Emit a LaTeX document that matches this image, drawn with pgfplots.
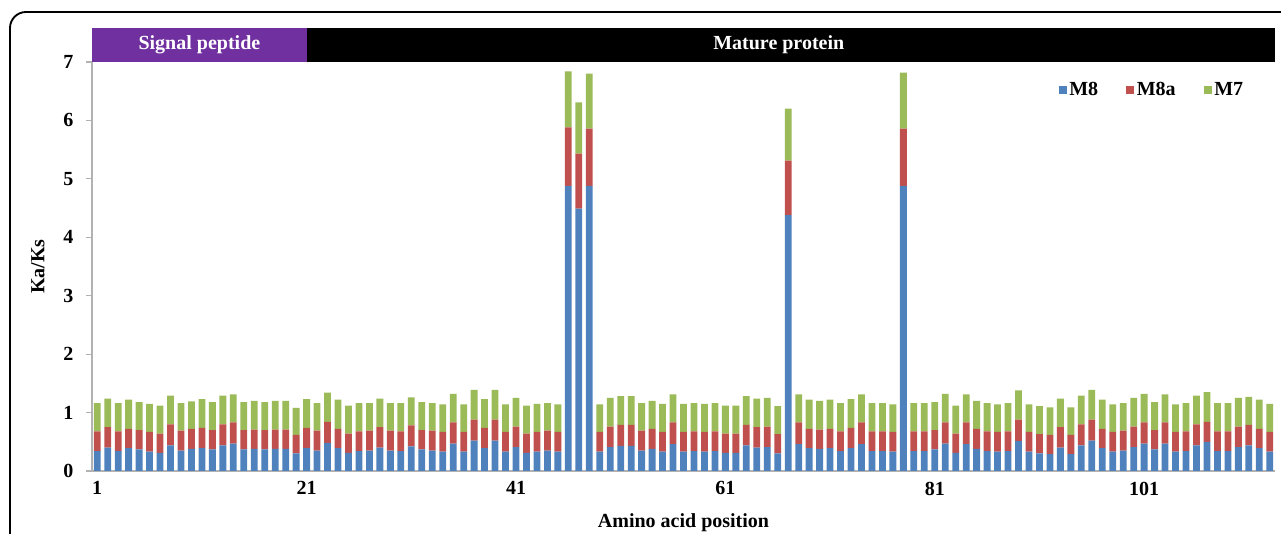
\documentclass[border=0pt]{standalone}
\usepackage{fontspec}
\setmainfont{Liberation Serif}
\usepackage{pgfplots}
\usepackage{pgfplotstable}
\pgfplotsset{compat=1.18}
\definecolor{cMeight}{HTML}{4F81BD}
\definecolor{cMeighta}{HTML}{C0504D}
\definecolor{cMseven}{HTML}{9BBB59}
\definecolor{cPurple}{HTML}{7030A0}
\pgfplotstableread{
pos m8 m8a m7
1 0.34 0.34 0.48
2 0.40 0.35 0.49
3 0.34 0.34 0.48
4 0.39 0.33 0.50
5 0.37 0.33 0.48
6 0.33 0.34 0.48
7 0.31 0.33 0.48
8 0.44 0.36 0.49
9 0.35 0.34 0.47
10 0.38 0.34 0.47
11 0.39 0.35 0.49
12 0.37 0.33 0.48
13 0.44 0.36 0.49
14 0.47 0.36 0.48
15 0.37 0.33 0.48
16 0.38 0.33 0.49
17 0.37 0.33 0.48
18 0.38 0.33 0.49
19 0.38 0.33 0.49
20 0.30 0.32 0.46
21 0.39 0.35 0.49
22 0.35 0.34 0.47
23 0.48 0.36 0.50
24 0.39 0.33 0.50
25 0.31 0.33 0.48
26 0.34 0.34 0.48
27 0.35 0.34 0.47
28 0.40 0.35 0.49
29 0.35 0.34 0.47
30 0.34 0.34 0.48
31 0.42 0.36 0.48
32 0.37 0.33 0.48
33 0.35 0.34 0.47
34 0.33 0.34 0.47
35 0.47 0.36 0.49
36 0.33 0.34 0.47
37 0.52 0.36 0.51
38 0.39 0.35 0.49
39 0.52 0.36 0.51
40 0.33 0.34 0.47
41 0.41 0.35 0.49
42 0.31 0.33 0.48
43 0.33 0.34 0.48
44 0.35 0.34 0.47
45 0.33 0.34 0.47
46 4.88 1.00 0.96
47 4.49 0.94 0.88
48 4.88 0.98 0.94
49 0.33 0.34 0.47
50 0.41 0.35 0.49
51 0.43 0.36 0.49
52 0.43 0.36 0.49
53 0.35 0.34 0.47
54 0.38 0.34 0.48
55 0.33 0.34 0.48
56 0.46 0.37 0.48
57 0.33 0.34 0.48
58 0.34 0.34 0.48
59 0.33 0.34 0.48
60 0.34 0.34 0.48
61 0.31 0.33 0.48
62 0.31 0.33 0.48
63 0.44 0.35 0.49
64 0.40 0.35 0.49
65 0.41 0.35 0.49
66 0.30 0.33 0.48
67 4.38 0.93 0.89
68 0.46 0.37 0.48
69 0.39 0.33 0.50
70 0.38 0.33 0.49
71 0.39 0.33 0.50
72 0.34 0.34 0.48
73 0.39 0.35 0.49
74 0.46 0.37 0.48
75 0.34 0.34 0.48
76 0.34 0.34 0.48
77 0.33 0.34 0.47
78 4.88 0.98 0.96
79 0.34 0.34 0.48
80 0.34 0.34 0.48
81 0.37 0.33 0.48
82 0.47 0.36 0.49
83 0.31 0.33 0.48
84 0.46 0.37 0.48
85 0.38 0.34 0.48
86 0.34 0.34 0.48
87 0.33 0.34 0.47
88 0.34 0.34 0.48
89 0.51 0.37 0.50
90 0.33 0.34 0.47
91 0.30 0.33 0.48
92 0.29 0.33 0.47
93 0.40 0.35 0.49
94 0.29 0.33 0.47
95 0.44 0.36 0.49
96 0.52 0.36 0.51
97 0.39 0.33 0.50
98 0.33 0.34 0.47
99 0.35 0.34 0.47
100 0.41 0.35 0.49
101 0.47 0.36 0.49
102 0.37 0.33 0.48
103 0.47 0.36 0.48
104 0.33 0.34 0.47
105 0.34 0.34 0.48
106 0.44 0.36 0.49
107 0.50 0.34 0.51
108 0.34 0.34 0.48
109 0.34 0.34 0.48
110 0.41 0.35 0.49
111 0.44 0.35 0.48
112 0.39 0.33 0.50
113 0.33 0.34 0.48
}\data

\begin{document}
\begin{tikzpicture}
\useasboundingbox (0pt,0pt) rectangle (960.75pt,400.5pt);
\draw[line width=1.4pt, rounded corners=12pt] (7.5pt,-5pt) -- (7.5pt,391.5pt) -- (970pt,391.5pt);
\begin{axis}[
  at={(69pt,47.25pt)}, anchor=south west,
  width=887.25pt, height=306.75pt, scale only axis,
  xmin=0.5, xmax=113.5, ymin=0, ymax=7,
  ybar stacked, bar width=0.65,
  axis x line*=bottom, axis y line*=left,
  axis line style={draw=gray!60, line width=0.8pt, -},
  xtick={1,21,41,61,81,101}, ytick={0,1,2,3,4,5,6,7},
  x tick style={draw=none},
  y tick style={draw=gray!60, line width=0.8pt},
  tick align=outside, major tick length=4.5pt,
  /pgf/number format/assume math mode=true,
  ticklabel style={font=\fontsize{15}{18}\selectfont\bfseries},
  yticklabel style={xshift=-6pt},
  label style={font=\fontsize{15}{18}\selectfont\bfseries},
  xlabel={Amino acid position},
  ylabel={Ka/Ks},
  xlabel style={at={(axis description cs:0.5,-0.127)}, anchor=center},
  ylabel style={at={(axis description cs:-0.0457,0.5)}, anchor=center},
  clip=false,
  legend columns=3,
  legend style={at={(0.979,0.965)}, anchor=north east, draw=none, fill=none,
    font=\fontsize{15}{18}\selectfont\bfseries,
    /tikz/every even column/.append style={column sep=19pt}},
  legend image code/.code={\fill[#1] (0pt,-3pt) rectangle (6pt,3pt);},
]
\addplot[fill=cMeight, draw=none] table[x=pos, y=m8] {\data};
\addplot[fill=cMeighta, draw=none] table[x=pos, y=m8a] {\data};
\addplot[fill=cMseven, draw=none] table[x=pos, y=m7] {\data};
\legend{M8, M8a, M7}
\coordinate (spA) at (axis cs:0.5,7);
\coordinate (spB) at (axis cs:21,7.58);
\coordinate (mpB) at (axis cs:113.5,7.58);
\coordinate (spT) at (axis cs:10.76,7.29);
\coordinate (mpT) at (axis cs:66.1,7.29);
\end{axis}
\fill[cPurple] (spA) rectangle (spB);
\fill[black] (spB |- spA) rectangle (mpB);
\node[text=white, font=\fontsize{15}{18}\selectfont\bfseries] at (spT) {Signal peptide};
\node[text=white, font=\fontsize{15}{18}\selectfont\bfseries] at (mpT) {Mature protein};
\end{tikzpicture}
\end{document}
